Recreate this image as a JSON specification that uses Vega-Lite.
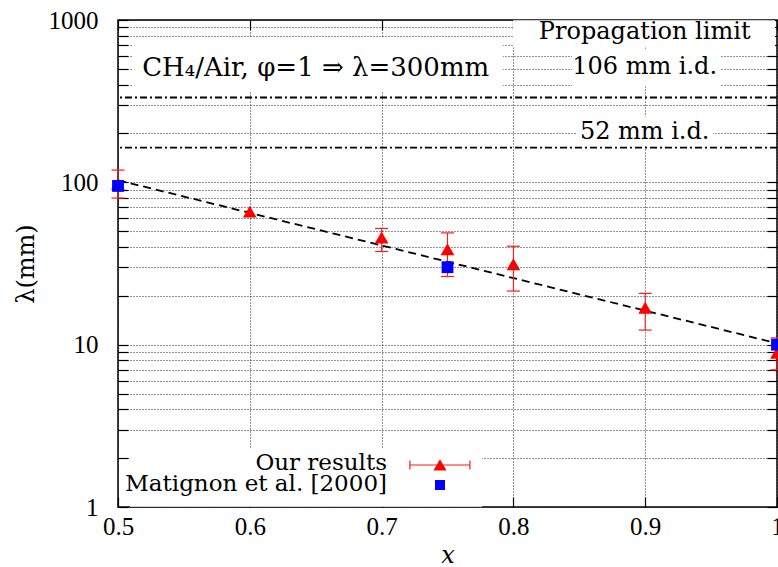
{
  "$schema": "https://vega.github.io/schema/vega-lite/v6.json",
  "width": 659,
  "height": 487,
  "autosize": {"type": "none"},
  "padding": {"left": 118, "top": 20, "right": 1, "bottom": 60},
  "background": "white",
  "config": {
    "view": {"stroke": "black", "strokeWidth": 1.5},
    "axis": {
      "labelFont": "Liberation Serif, Times New Roman, serif", "labelFontSize": 25, "labelColor": "black",
      "titleFont": "DejaVu Serif, serif", "titleFontSize": 24, "titleFontWeight": "normal", "titleColor": "black",
      "domain": false, "gridColor": "#000", "gridDash": [1, 2], "gridWidth": 1, "gridOpacity": 0.85,
      "tickColor": "black", "tickWidth": 1.2, "labelFlush": false, "labelOverlap": false, "labelBound": false
    },
    "text": {"font": "DejaVu Serif, serif", "fontSize": 24, "color": "black"}
  },
  "datasets": {
    "fit": [{"x": 0.5, "lambda": 103}, {"x": 1.0, "lambda": 10.2}],
    "ours": [
      {"x": 0.5, "lambda": 98, "lo": 80, "hi": 119},
      {"x": 0.6, "lambda": 66},
      {"x": 0.7, "lambda": 45.7, "lo": 37.5, "hi": 52},
      {"x": 0.75, "lambda": 38.7, "lo": 26.3, "hi": 48.8},
      {"x": 0.8, "lambda": 31.3, "lo": 21.4, "hi": 40.4},
      {"x": 0.9, "lambda": 16.9, "lo": 12.3, "hi": 20.7},
      {"x": 1.0, "lambda": 8.9, "lo": 7.0, "hi": 11.0}
    ],
    "matignon": [
      {"x": 0.5, "lambda": 95},
      {"x": 0.75, "lambda": 30},
      {"x": 1.0, "lambda": 10}
    ],
    "one": [{}]
  },
  "resolve": {"axis": {"x": "independent", "y": "independent"}},
  "layer": [
    {
      "data": {"name": "fit"},
      "mark": {"type": "line", "color": "black", "strokeWidth": 1.8, "strokeDash": [8, 5]},
      "encoding": {
        "x": {"field": "x", "type": "quantitative", "scale": {"domain": [0.5, 1], "nice": false, "zero": false},
          "axis": {"orient": "bottom", "title": "x", "titleFontStyle": "italic", "titleFont": "DejaVu Serif, serif", "titlePadding": 4,
            "values": [0.5, 0.6, 0.7, 0.8, 0.9, 1], "format": "~g", "grid": true, "tickSize": -10, "labelPadding": 17}},
        "y": {"field": "lambda", "type": "quantitative", "scale": {"type": "log", "domain": [1, 1000], "nice": false},
          "axis": {"orient": "left", "title": "λ(mm)", "titlePadding": 10,
            "values": [1, 2, 3, 4, 5, 6, 7, 8, 9, 10, 20, 30, 40, 50, 60, 70, 80, 90, 100, 200, 300, 400, 500, 600, 700, 800, 900, 1000],
            "labelExpr": "datum.value == 1 || datum.value == 10 || datum.value == 100 || datum.value == 1000 ? '' + datum.value : ''",
            "grid": true, "tickSize": -10, "labelPadding": 30}}
      }
    },
    {
      "data": {"name": "one"},
      "mark": {"type": "rect", "color": "white"},
      "encoding": {
        "x": {"datum": 0.5106, "type": "quantitative", "scale": {"domain": [0.5, 1], "nice": false, "zero": false}, "axis": null},
        "x2": {"datum": 0.7921},
        "y": {"datum": 780, "type": "quantitative", "scale": {"type": "log", "domain": [1, 1000], "nice": false}, "axis": null},
        "y2": {"datum": 363}
      }
    },
    {
      "data": {"name": "one"},
      "mark": {"type": "rect", "color": "white"},
      "encoding": {
        "x": {"datum": 0.7997, "type": "quantitative", "scale": {"domain": [0.5, 1], "nice": false, "zero": false}, "axis": null},
        "x2": {"datum": 0.9985},
        "y": {"datum": 995, "type": "quantitative", "scale": {"type": "log", "domain": [1, 1000], "nice": false}, "axis": null},
        "y2": {"datum": 677}
      }
    },
    {
      "data": {"name": "one"},
      "mark": {"type": "rect", "color": "white"},
      "encoding": {
        "x": {"datum": 0.8445, "type": "quantitative", "scale": {"domain": [0.5, 1], "nice": false, "zero": false}, "axis": null},
        "x2": {"datum": 0.9568},
        "y": {"datum": 658, "type": "quantitative", "scale": {"type": "log", "domain": [1, 1000], "nice": false}, "axis": null},
        "y2": {"datum": 389}
      }
    },
    {
      "data": {"name": "one"},
      "mark": {"type": "rect", "color": "white"},
      "encoding": {
        "x": {"datum": 0.8483, "type": "quantitative", "scale": {"domain": [0.5, 1], "nice": false, "zero": false}, "axis": null},
        "x2": {"datum": 0.9514},
        "y": {"datum": 254, "type": "quantitative", "scale": {"type": "log", "domain": [1, 1000], "nice": false}, "axis": null},
        "y2": {"datum": 169}
      }
    },
    {
      "data": {"name": "one"},
      "mark": {"type": "rect", "color": "white"},
      "encoding": {
        "x": {"datum": 0.5091, "type": "quantitative", "scale": {"domain": [0.5, 1], "nice": false, "zero": false}, "axis": null},
        "x2": {"datum": 0.7762},
        "y": {"datum": 2.27, "type": "quantitative", "scale": {"type": "log", "domain": [1, 1000], "nice": false}, "axis": null},
        "y2": {"datum": 1.005}
      }
    },
    {
      "data": {"name": "one"},
      "mark": {"type": "rule", "color": "black", "strokeWidth": 1.8, "strokeDash": [7, 3, 2, 3]},
      "encoding": {
        "y": {"datum": 333, "type": "quantitative", "scale": {"type": "log", "domain": [1, 1000], "nice": false}, "axis": null}
      }
    },
    {
      "data": {"name": "one"},
      "mark": {"type": "rule", "color": "black", "strokeWidth": 1.8, "strokeDash": [7, 3, 2, 3]},
      "encoding": {
        "y": {"datum": 163.4, "type": "quantitative", "scale": {"type": "log", "domain": [1, 1000], "nice": false}, "axis": null}
      }
    },
    {
      "data": {"name": "ours"},
      "transform": [{"filter": "isValid(datum.lo)"}],
      "mark": {"type": "rule", "color": "#ff1a1a", "strokeWidth": 1.1},
      "encoding": {
        "x": {"field": "x", "type": "quantitative", "scale": {"domain": [0.5, 1], "nice": false, "zero": false}, "axis": null},
        "y": {"field": "lo", "type": "quantitative", "scale": {"type": "log", "domain": [1, 1000], "nice": false}, "axis": null},
        "y2": {"field": "hi"}
      }
    },
    {
      "data": {"name": "ours"},
      "transform": [{"filter": "isValid(datum.lo)"}],
      "mark": {"type": "tick", "orient": "horizontal", "size": 13, "thickness": 1.2, "color": "#ff1a1a", "opacity": 1},
      "encoding": {
        "x": {"field": "x", "type": "quantitative", "scale": {"domain": [0.5, 1], "nice": false, "zero": false}, "axis": null},
        "y": {"field": "lo", "type": "quantitative", "scale": {"type": "log", "domain": [1, 1000], "nice": false}, "axis": null}
      }
    },
    {
      "data": {"name": "ours"},
      "transform": [{"filter": "isValid(datum.hi)"}],
      "mark": {"type": "tick", "orient": "horizontal", "size": 13, "thickness": 1.2, "color": "#ff1a1a", "opacity": 1},
      "encoding": {
        "x": {"field": "x", "type": "quantitative", "scale": {"domain": [0.5, 1], "nice": false, "zero": false}, "axis": null},
        "y": {"field": "hi", "type": "quantitative", "scale": {"type": "log", "domain": [1, 1000], "nice": false}, "axis": null}
      }
    },
    {
      "data": {"name": "ours"},
      "mark": {"type": "point", "shape": "triangle-up", "filled": true, "color": "#ff0000", "size": 190, "opacity": 1},
      "encoding": {
        "x": {"field": "x", "type": "quantitative", "scale": {"domain": [0.5, 1], "nice": false, "zero": false}, "axis": null},
        "y": {"field": "lambda", "type": "quantitative", "scale": {"type": "log", "domain": [1, 1000], "nice": false}, "axis": null}
      }
    },
    {
      "data": {"name": "matignon"},
      "mark": {"type": "square", "filled": true, "color": "#0000ff", "size": 140, "opacity": 1, "cornerRadius": 2},
      "encoding": {
        "x": {"field": "x", "type": "quantitative", "scale": {"domain": [0.5, 1], "nice": false, "zero": false},
          "axis": {"orient": "top", "title": null, "labels": false, "grid": false, "domain": false, "tickSize": -10,
            "values": [0.5, 0.6, 0.7, 0.8, 0.9, 1]}},
        "y": {"field": "lambda", "type": "quantitative", "scale": {"type": "log", "domain": [1, 1000], "nice": false},
          "axis": {"orient": "right", "title": null, "labels": false, "grid": false, "domain": false, "tickSize": -10,
            "values": [1, 2, 3, 4, 5, 6, 7, 8, 9, 10, 20, 30, 40, 50, 60, 70, 80, 90, 100, 200, 300, 400, 500, 600, 700, 800, 900, 1000]}}
      }
    },
    {
      "data": {"name": "one"},
      "mark": {"type": "text", "text": "CH₄/Air, φ=1 ⇒ λ=300mm", "align": "center", "baseline": "alphabetic", "fontSize": 26},
      "encoding": {
        "x": {"datum": 0.650, "type": "quantitative", "scale": {"domain": [0.5, 1], "nice": false, "zero": false}, "axis": null},
        "y": {"datum": 455, "type": "quantitative", "scale": {"type": "log", "domain": [1, 1000], "nice": false}, "axis": null}
      }
    },
    {
      "data": {"name": "one"},
      "mark": {"type": "text", "text": "Propagation limit", "align": "center", "baseline": "alphabetic"},
      "encoding": {
        "x": {"datum": 0.8996, "type": "quantitative", "scale": {"domain": [0.5, 1], "nice": false, "zero": false}, "axis": null},
        "y": {"datum": 759, "type": "quantitative", "scale": {"type": "log", "domain": [1, 1000], "nice": false}, "axis": null}
      }
    },
    {
      "data": {"name": "one"},
      "mark": {"type": "text", "text": "106 mm i.d.", "align": "center", "baseline": "alphabetic"},
      "encoding": {
        "x": {"datum": 0.8996, "type": "quantitative", "scale": {"domain": [0.5, 1], "nice": false, "zero": false}, "axis": null},
        "y": {"datum": 462, "type": "quantitative", "scale": {"type": "log", "domain": [1, 1000], "nice": false}, "axis": null}
      }
    },
    {
      "data": {"name": "one"},
      "mark": {"type": "text", "text": "52 mm i.d.", "align": "center", "baseline": "alphabetic"},
      "encoding": {
        "x": {"datum": 0.8996, "type": "quantitative", "scale": {"domain": [0.5, 1], "nice": false, "zero": false}, "axis": null},
        "y": {"datum": 184, "type": "quantitative", "scale": {"type": "log", "domain": [1, 1000], "nice": false}, "axis": null}
      }
    },
    {
      "data": {"name": "one"},
      "mark": {"type": "text", "text": "Our results", "align": "right", "baseline": "alphabetic", "fontSize": 23},
      "encoding": {
        "x": {"datum": 0.7041, "type": "quantitative", "scale": {"domain": [0.5, 1], "nice": false, "zero": false}, "axis": null},
        "y": {"datum": 1.69, "type": "quantitative", "scale": {"type": "log", "domain": [1, 1000], "nice": false}, "axis": null}
      }
    },
    {
      "data": {"name": "one"},
      "mark": {"type": "text", "text": "Matignon et al. [2000]", "align": "right", "baseline": "alphabetic", "fontSize": 23},
      "encoding": {
        "x": {"datum": 0.7041, "type": "quantitative", "scale": {"domain": [0.5, 1], "nice": false, "zero": false}, "axis": null},
        "y": {"datum": 1.254, "type": "quantitative", "scale": {"type": "log", "domain": [1, 1000], "nice": false}, "axis": null}
      }
    },
    {
      "data": {"name": "one"},
      "mark": {"type": "rule", "color": "#ff1a1a", "strokeWidth": 1.1},
      "encoding": {
        "x": {"datum": 0.7215, "type": "quantitative", "scale": {"domain": [0.5, 1], "nice": false, "zero": false}, "axis": null},
        "x2": {"datum": 0.767},
        "y": {"datum": 1.814, "type": "quantitative", "scale": {"type": "log", "domain": [1, 1000], "nice": false}, "axis": null}
      }
    },
    {
      "data": {"name": "one"},
      "mark": {"type": "tick", "orient": "vertical", "size": 9, "thickness": 1.2, "color": "#ff1a1a", "opacity": 1},
      "encoding": {
        "x": {"datum": 0.7215, "type": "quantitative", "scale": {"domain": [0.5, 1], "nice": false, "zero": false}, "axis": null},
        "y": {"datum": 1.814, "type": "quantitative", "scale": {"type": "log", "domain": [1, 1000], "nice": false}, "axis": null}
      }
    },
    {
      "data": {"name": "one"},
      "mark": {"type": "tick", "orient": "vertical", "size": 9, "thickness": 1.2, "color": "#ff1a1a", "opacity": 1},
      "encoding": {
        "x": {"datum": 0.767, "type": "quantitative", "scale": {"domain": [0.5, 1], "nice": false, "zero": false}, "axis": null},
        "y": {"datum": 1.814, "type": "quantitative", "scale": {"type": "log", "domain": [1, 1000], "nice": false}, "axis": null}
      }
    },
    {
      "data": {"name": "one"},
      "mark": {"type": "point", "shape": "triangle-up", "filled": true, "color": "#ff0000", "size": 170, "opacity": 1},
      "encoding": {
        "x": {"datum": 0.7443, "type": "quantitative", "scale": {"domain": [0.5, 1], "nice": false, "zero": false}, "axis": null},
        "y": {"datum": 1.82, "type": "quantitative", "scale": {"type": "log", "domain": [1, 1000], "nice": false}, "axis": null}
      }
    },
    {
      "data": {"name": "one"},
      "mark": {"type": "square", "filled": true, "color": "#0000ff", "size": 100, "opacity": 1, "cornerRadius": 2},
      "encoding": {
        "x": {"datum": 0.7443, "type": "quantitative", "scale": {"domain": [0.5, 1], "nice": false, "zero": false}, "axis": null},
        "y": {"datum": 1.366, "type": "quantitative", "scale": {"type": "log", "domain": [1, 1000], "nice": false}, "axis": null}
      }
    }
  ]
}
